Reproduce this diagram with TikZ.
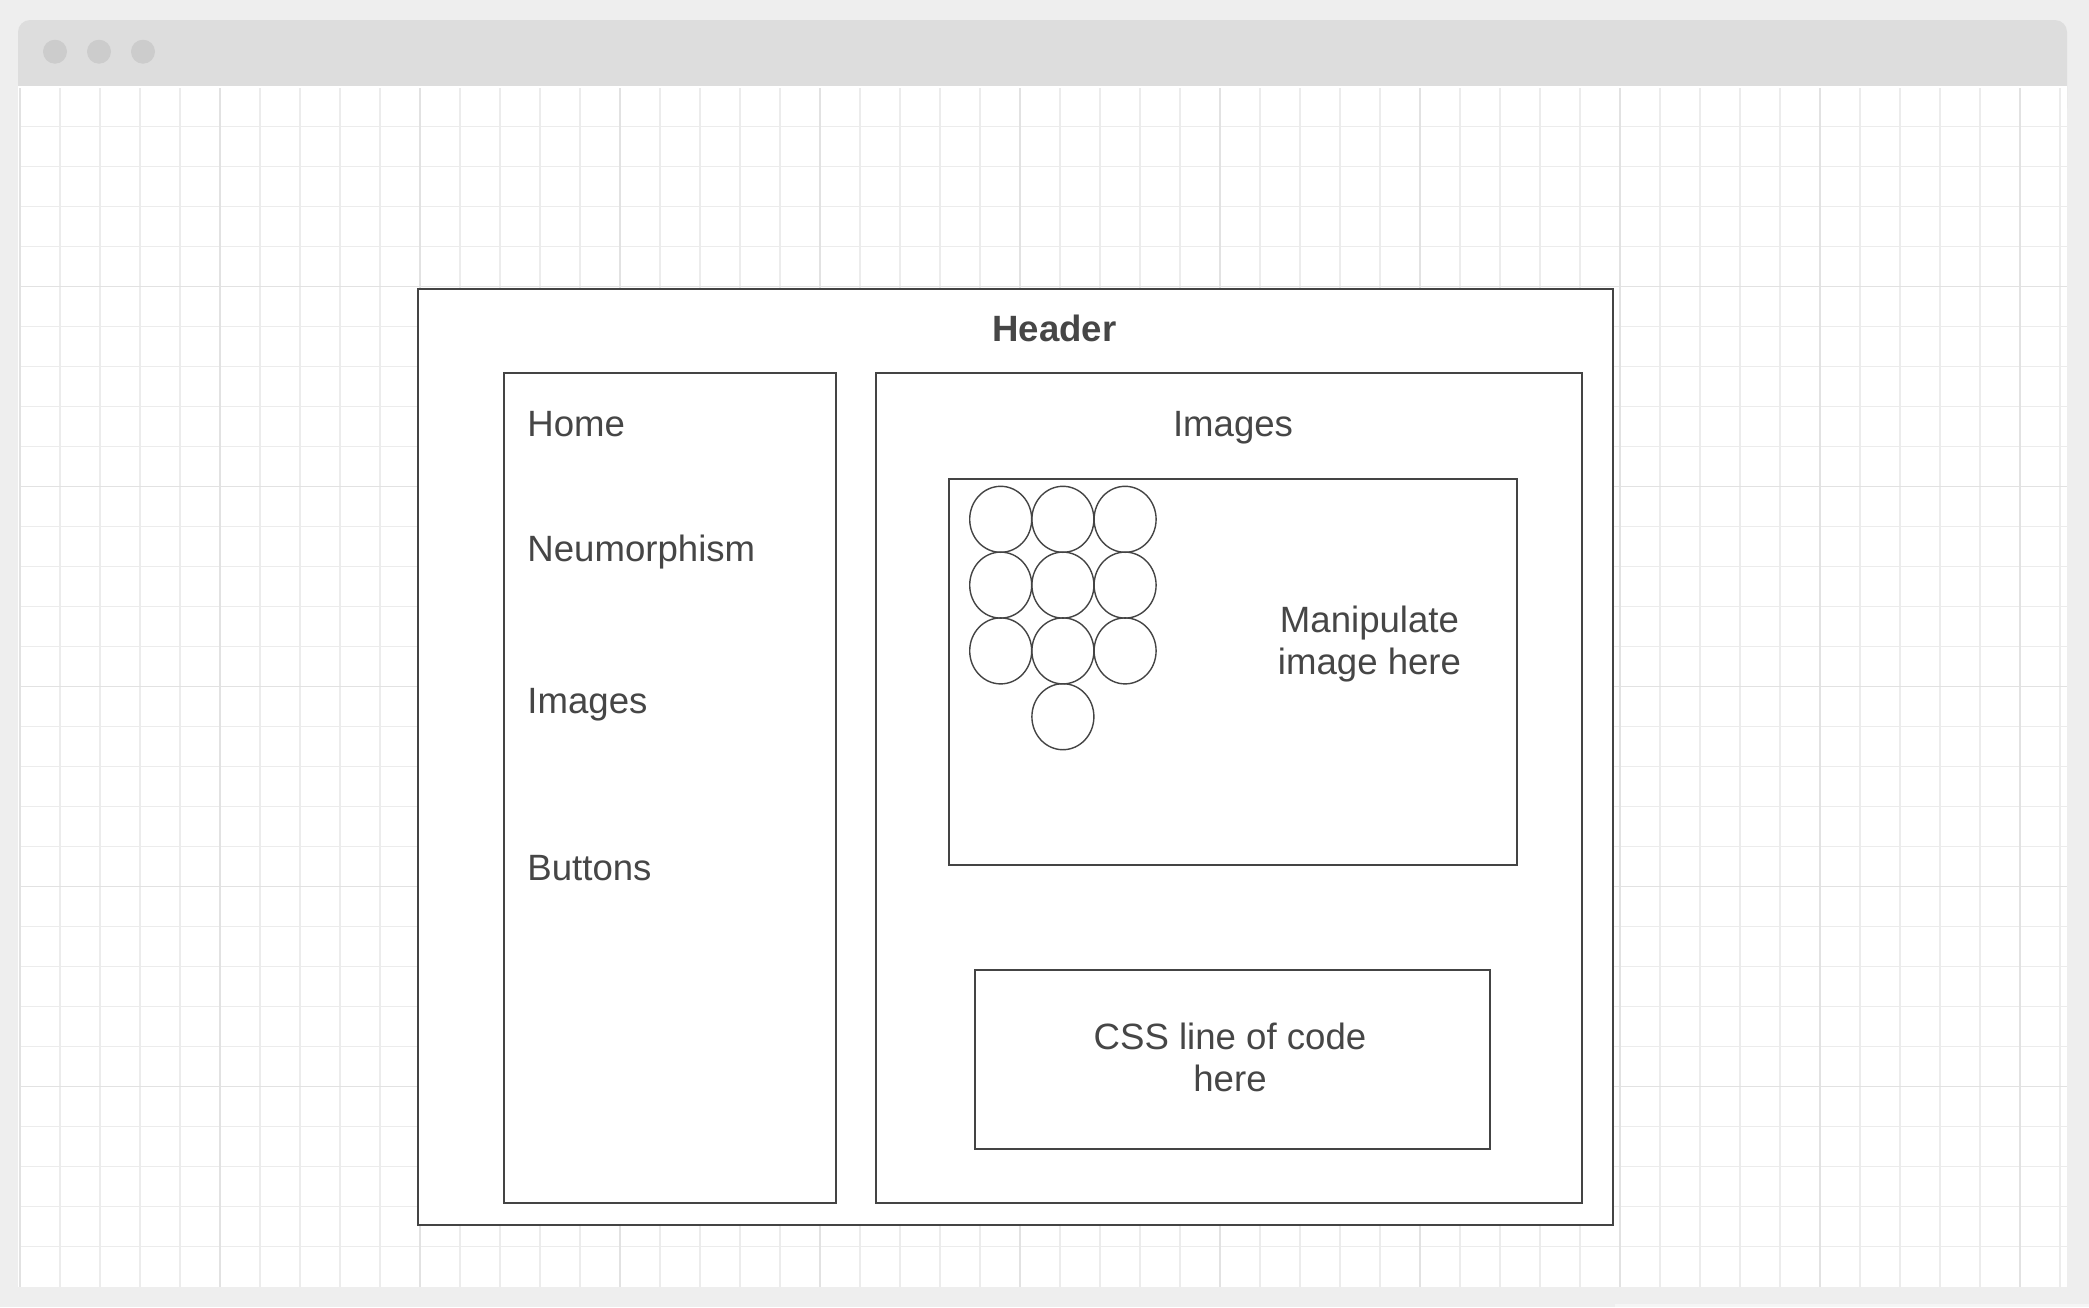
\documentclass[tikz,border=0pt]{standalone}
\usepackage{fontspec}
\setmainfont{Liberation Sans}
\usetikzlibrary{shapes.geometric}
\definecolor{bggray}{RGB}{238,238,238}
\definecolor{bargray}{RGB}{221,221,221}
\definecolor{dotgray}{RGB}{204,204,204}
\definecolor{minorgray}{RGB}{236,236,236}
\definecolor{majorgray}{RGB}{226,226,226}
\definecolor{linegray}{RGB}{68,68,68}
\definecolor{textgray}{RGB}{70,70,70}

\begin{document}
\begin{tikzpicture}[x=0.5pt,y=-0.5pt]
		  \tikzset{
			box/.style={draw=linegray,fill=white,line width=0.8pt,inner sep=0pt},
			lbl/.style={text=textgray,inner sep=0pt,font=\fontsize{18.3pt}{20.8pt}\selectfont},
			dot/.style={ellipse,draw=linegray,line width=0.7pt,minimum width=31pt,minimum height=33pt,inner sep=0pt},
		  }
		  \useasboundingbox (0,0) rectangle (2089,1307);
		  %BACKGROUND
		  \fill[bggray] (0,0) rectangle (2089,1307);
		  \fill[white!96!black] (1615,1304) rectangle (2089,1307);
		  %TITLE BAR
		  \fill[bargray,rounded corners=6pt] (18,20) rectangle (2067,120);
		  \foreach \x in {55,99,143}{
			\fill[dotgray] (\x,51.7) circle (6pt);
		  }
		  %CANVAS
		  \fill[white] (18,86) rectangle (2067,1287);
		  \foreach \x in {60,100,...,2060}{
			\draw[minorgray,line width=0.65pt] (\x,88) -- (\x,1287);
		  }
		  \foreach \k in {1,...,29}{
			\draw[minorgray,line width=0.65pt] (20,{86.7+40*\k}) -- (2067,{86.7+40*\k});
		  }
		  %GRID MAJOR
		  \foreach \x in {20,220,...,2020}{
			\draw[majorgray,line width=0.7pt] (\x,88) -- (\x,1287);
		  }
		  \foreach \k in {5,10,...,25}{
			\draw[majorgray,line width=0.7pt] (20,{86.7+40*\k}) -- (2067,{86.7+40*\k});
		  }
		  %OUTER BOX
		  \node[box,minimum width=597.5pt,minimum height=468pt] (page) at (1015.5,757) {};
		  \node[lbl,font=\fontsize{18.3pt}{20.8pt}\selectfont\bfseries,anchor=base] (header) at (1054.5,341.7) {Header};
		  %MENU
		  \node[box,minimum width=166pt,minimum height=415pt] (menu) at (670,788) {};
		  \node[lbl,anchor=base west] (home) at (527,436) {Home};
		  \node[lbl,anchor=base west] (neu) at (527,561) {Neumorphism};
		  \node[lbl,anchor=base west] (imgs) at (527,713) {Images};
		  \node[lbl,anchor=base west] (btns) at (527,880) {Buttons};
		  %CONTENT
		  \node[box,minimum width=353pt,minimum height=415pt] (content) at (1229,788) {};
		  \node[lbl,anchor=base] (title) at (1233,436) {Images};
		  %IMAGE AREA
		  \node[box,minimum width=284pt,minimum height=193pt] (area) at (1233,672) {};
		  \foreach \c/\r in {0/0,1/0,2/0,0/1,1/1,2/1,0/2,1/2,2/2,1/3}{
			\node[dot] (d\c\r) at ({1000.7+62.2*\c},{519.3+65.8*\r}) {};
		  }
		  \node[lbl,align=center,anchor=base] (manip) at (1369.5,674.3) {Manipulate\\image here};
		  %CSS BOX
		  \node[box,minimum width=257.5pt,minimum height=89.5pt] (css) at (1232.5,1059.5) {};
		  \node[lbl,align=center,anchor=base] (code) at (1230,1091) {CSS line of code\\here};
\end{tikzpicture}
\end{document}
